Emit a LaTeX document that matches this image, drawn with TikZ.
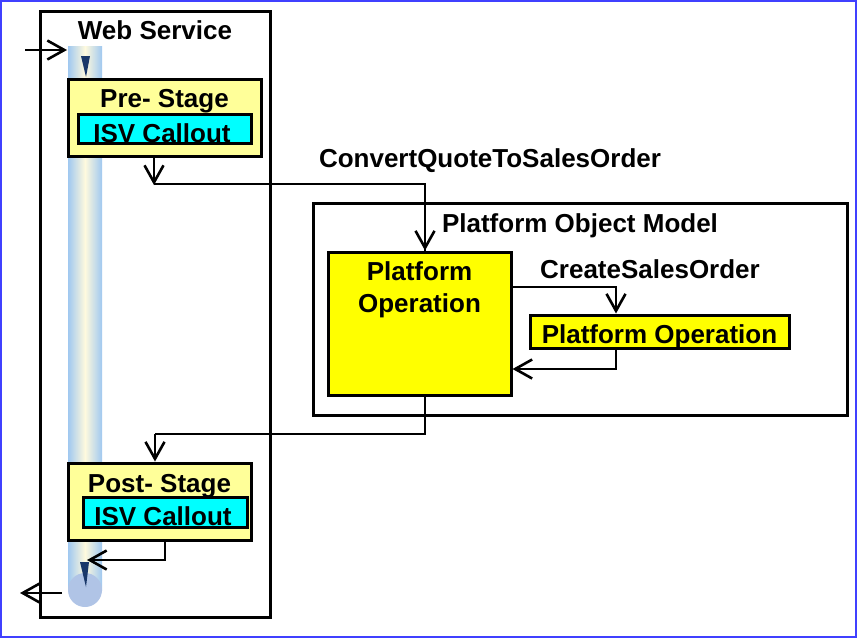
\documentclass[tikz,border=0pt]{standalone}
\usepackage{fontspec}
\setmainfont{Liberation Sans}
\usetikzlibrary{arrows.meta}
\definecolor{frameblue}{RGB}{64,64,255}
\definecolor{paleyel}{RGB}{255,255,153}
\definecolor{cyanbox}{RGB}{0,255,255}
\definecolor{yelbox}{RGB}{255,255,0}
\definecolor{colblue}{RGB}{160,200,240}
\definecolor{colcream}{RGB}{255,250,222}
\definecolor{capblue}{RGB}{176,196,230}
\definecolor{navy}{RGB}{25,55,105}
\begin{document}
\begin{tikzpicture}[x=1pt,y=-1pt,
  txt/.style={font=\fontsize{26}{32}\selectfont\bfseries, inner sep=0pt, anchor=base},
  box/.style={draw=black, line width=3pt, inner sep=0pt, rectangle},
  arr/.style={line width=2.6pt, -{Straight Barb[length=17pt,width=19pt]}},
  ln/.style={line width=2.6pt}]
\useasboundingbox (0,0) rectangle (857,638);
\draw[frameblue, line width=2pt] (1,1) rectangle (856,637);

% Web service box
\node[box, minimum width=230pt, minimum height=606pt] (ws) at (155,314) {};
\node[txt] (wst) at (155,39) {Web Service};

% column
\shade[left color=colblue, right color=colblue, middle color=colcream] (68,46) rectangle (102,590);
\fill[capblue] (85,590) circle (17);
\fill[navy] (81,56) -- (90,56) -- (86,77) -- cycle;
\fill[navy] (80,562) -- (89,562) -- (86,587) -- cycle;

% Pre stage
\node[box, fill=paleyel, minimum width=193pt, minimum height=77pt] (pre) at (164.5,117.5) {};
\node[txt] (pret) at (164.5,107) {Pre- Stage};
\node[box, fill=cyanbox, minimum width=173pt, minimum height=29pt] (preisv) at (164.5,128.5) {};
\node[txt] (preisvt) at (162,142) {ISV Callout};

% Post stage
\node[box, fill=paleyel, minimum width=183pt, minimum height=77pt] (post) at (159.5,501.5) {};
\node[txt] (postt) at (159.5,492) {Post- Stage};
\node[box, fill=cyanbox, minimum width=164pt, minimum height=30pt] (postisv) at (165,512) {};
\node[txt] (postisvt) at (163,525) {ISV Callout};

% Platform object model
\node[box, minimum width=534pt, minimum height=212pt] (pom) at (580,309) {};
\node[txt] (pomt) at (580,232) {Platform Object Model};
\node[box, fill=yelbox, minimum width=183pt, minimum height=143pt] (po) at (419.5,323.5) {};
\node[txt, anchor=north, align=center] (pot) at (419.5,261) {Platform\\Operation};
\node[box, fill=yelbox, minimum width=259pt, minimum height=33pt] (spo) at (659.5,331.5) {};
\node[txt] (spot) at (659.5,343) {Platform Operation};

% labels
\node[txt] (cq) at (490,167) {ConvertQuoteToSalesOrder};
\node[txt] (cs) at (650,278) {CreateSalesOrder};

% connectors
\coordinate (inS) at (25,50);
\coordinate (inE) at (67,50);
\draw[arr] (inS) -- (inE);

\coordinate (j1) at (154,184);
\draw[arr] (pre.south -| j1) -- ([yshift=-1pt]j1);
\draw[ln] (j1) -| ([xshift=5.5pt]po.north);
\draw[arr] ([xshift=5.5pt,yshift=25pt]po.north) -- ([xshift=5.5pt]po.north);

\draw[ln] ([yshift=36.5pt]po.east) -| ([xshift=-43.5pt,yshift=15pt]spo.north);
\draw[arr] ([xshift=-43.5pt,yshift=15pt]spo.north) -- ([xshift=-43.5pt]spo.north);

\draw[arr] ([xshift=-43.5pt]spo.south) |- ([yshift=-45.5pt]po.east);

\coordinate (j2) at (155,434);
\draw[ln] ([xshift=5.5pt]po.south) |- (j2);
\draw[arr] (j2) -- (post.north -| j2);

\coordinate (j3) at (87,560);
\draw[arr] ([xshift=5.5pt]post.south) |- (j3);

\coordinate (outS) at (62,593);
\coordinate (outE) at (20,593);
\draw[arr] (outS) -- (outE);
\end{tikzpicture}
\end{document}
